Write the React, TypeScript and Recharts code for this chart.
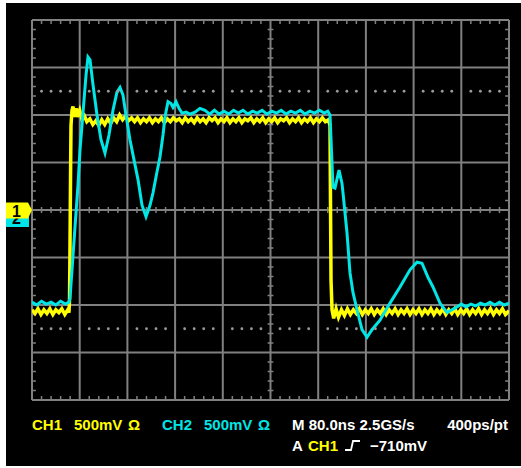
import { LineChart, Line, XAxis, YAxis, CartesianGrid, ReferenceLine, ReferenceDot } from 'recharts';

// scope setup: 80ns/div horizontally, 500mV/div vertically
const timeTicks = [0, 80, 160, 240, 320, 400, 480, 560, 640, 720, 800];
const voltTicks = [-2, -1.5, -1, -0.5, 0, 0.5, 1, 1.5, 2];
const cursorVolts = [1.25, -1.25];

// CH1 (yellow) – [ns, V]
const ch1Trace: [number, number][] = [
  [0, -1.05], [5, -1.09], [10, -1.04], [15, -1.1], [20, -1.05], [25, -1.09], [30, -1.04], [35, -1.1],
  [40, -1.05], [45, -1.08], [50, -1.04], [55, -1.1], [60, -1.05], [62, -1.08], [62.9, -0.95], [63.7, -0.42],
  [64.6, 0.32], [65.4, 0.89], [67.1, 1.05], [68.8, 1.09], [70.5, 0.98], [72.1, 1.03], [74, 1.07], [76, 0.98],
  [80, 1.05], [84, 0.95], [88, 0.99], [92, 0.93], [97, 0.96], [102, 0.9], [107, 0.94], [112, 0.89],
  [117, 0.95], [122, 0.9], [127, 0.96], [132, 0.91], [137, 0.97], [142, 0.93], [147, 1.0], [152, 0.95],
  [157, 0.99], [162, 0.94], [167, 0.97], [172, 0.93], [177, 0.97], [182, 0.92], [187, 0.96], [192, 0.93],
  [197, 0.97], [202, 0.92], [207, 0.96], [212, 0.93], [217, 0.97], [222, 0.92], [227, 0.96], [232, 0.93],
  [237, 0.97], [242, 0.94], [247, 0.96], [252, 0.92], [257, 0.97], [262, 0.93], [267, 0.96], [272, 0.92],
  [277, 0.97], [282, 0.93], [287, 0.96], [292, 0.92], [297, 0.97], [302, 0.94], [307, 0.97], [312, 0.92],
  [317, 0.96], [322, 0.93], [327, 0.97], [332, 0.92], [337, 0.96], [342, 0.93], [347, 0.97], [352, 0.92],
  [357, 0.96], [362, 0.94], [367, 0.97], [372, 0.92], [377, 0.96], [382, 0.93], [387, 0.97], [392, 0.92],
  [397, 0.96], [402, 0.93], [407, 0.97], [412, 0.92], [417, 0.96], [422, 0.94], [427, 0.97], [432, 0.92],
  [437, 0.96], [442, 0.93], [447, 0.97], [452, 0.92], [457, 0.96], [462, 0.93], [467, 0.97], [472, 0.92],
  [477, 0.96], [482, 0.93], [487, 0.97], [492, 0.93], [497, 0.95],
  [499.8, 0.89], [500.6, 0.1], [501.5, -0.74], [503.2, -1.05], [506, -1.14], [510, -1.04], [514, -1.13],
  [519, -1.05], [524, -1.11], [529, -1.04], [534, -1.1], [539, -1.05], [544, -1.09], [549, -1.04],
  [554, -1.1], [559, -1.05], [564, -1.09], [569, -1.04], [574, -1.1], [579, -1.05], [584, -1.09],
  [589, -1.04], [594, -1.1], [599, -1.05], [604, -1.09], [609, -1.04], [614, -1.1], [619, -1.05],
  [624, -1.09], [629, -1.04], [634, -1.1], [639, -1.05], [644, -1.09], [649, -1.04], [654, -1.1],
  [659, -1.05], [664, -1.09], [669, -1.04], [674, -1.1], [679, -1.05], [684, -1.09], [689, -1.04],
  [694, -1.1], [699, -1.05], [704, -1.09], [709, -1.04], [714, -1.1], [719, -1.05], [724, -1.09],
  [729, -1.04], [734, -1.1], [739, -1.05], [744, -1.09], [749, -1.04], [754, -1.1], [759, -1.05],
  [764, -1.09], [769, -1.04], [774, -1.1], [779, -1.05], [784, -1.09], [789, -1.04], [794, -1.1],
  [800, -1.06],
];

// CH2 (cyan) – [ns, V]
const ch2Trace: [number, number][] = [
  [0, -0.97], [8, -1.0], [16, -0.96], [24, -0.99], [32, -0.97], [40, -1.0], [48, -0.96], [56, -0.99],
  [62, -0.97], [63.7, -0.93], [67.1, -0.63], [72.1, -0.18], [77.1, 0.26], [80.5, 0.63], [85.5, 1.02],
  [90.6, 1.42], [93.9, 1.61], [97.3, 1.58], [102.3, 1.32], [109, 1.0], [115.7, 0.74], [122.4, 0.6],
  [129.1, 0.79], [135.8, 1.05], [142.5, 1.24], [147.6, 1.29], [152.6, 1.21], [157.6, 1.0], [164.3, 0.74],
  [171, 0.53], [177.8, 0.32], [184.5, 0.05], [191.2, -0.07], [197.9, 0.05], [202.9, 0.18], [209.6, 0.4],
  [214.7, 0.56], [219.7, 0.79], [223, 0.98], [228.1, 1.14], [233.1, 1.12], [236.5, 1.08], [241.5, 1.14],
  [246.5, 1.07], [251.6, 1.02], [258.3, 1.03], [265, 1.01], [273.4, 1.03], [281.7, 1.07], [290.1, 1.05],
  [298, 1.01], [306, 1.05], [314, 1.01], [322, 1.04], [330, 1.01], [338, 1.05], [346, 1.02], [354, 1.05],
  [362, 1.01], [370, 1.04], [378, 1.02], [386, 1.05], [394, 1.01], [402, 1.04], [410, 1.02], [418, 1.05],
  [426, 1.01], [434, 1.04], [442, 1.02], [450, 1.05], [458, 1.01], [466, 1.04], [474, 1.02], [482, 1.05],
  [490, 1.02], [496, 1.04], [499.8, 1.0], [504.8, 0.24], [508.2, 0.23], [514.9, 0.42], [519.9, 0.28],
  [521.6, 0.18], [528.3, -0.24], [533.3, -0.66], [538.4, -0.87], [545.1, -1.05], [553.5, -1.26],
  [561.9, -1.34], [570.2, -1.26], [583.6, -1.16], [600.4, -0.98], [617.2, -0.81], [634, -0.63],
  [645.7, -0.55], [654.1, -0.56], [664.1, -0.71], [672.5, -0.81], [684.2, -0.98], [696, -1.08],
  [704.4, -1.05], [712.8, -1.02], [720, -0.99], [728, -1.02], [736, -0.99], [744, -1.01], [752, -0.98],
  [760, -1.0], [768, -0.97], [776, -1.0], [784, -0.97], [792, -1.0], [800, -0.98],
];

const toRows = (pts: [number, number][]) => pts.map(([t, v]) => ({ t, v }));
const ch1Data = toRows(ch1Trace);
const ch2Data = toRows(ch2Trace);

const GRID = '#808080';
const YELLOW = '#ffff00';
const CYAN = '#00e6e6';

// 5 subdivisions per division
const minorTimes = timeTicks.slice(1).flatMap((t) => [1, 2, 3, 4].map((k) => t - 80 + k * 16));
const minorVolts = voltTicks.slice(1).flatMap((v) => [1, 2, 3, 4].map((k) => v - 0.5 + k * 0.1));
const TX = 6.5; // ~4px in ns
const TY = 0.042; // ~4px in V

const tickSegments = [
  ...minorTimes.map((t) => [{ x: t, y: 2 }, { x: t, y: 2 - TY }]),
  ...minorTimes.map((t) => [{ x: t, y: -2 }, { x: t, y: -2 + TY }]),
  ...minorTimes.map((t) => [{ x: t, y: -TY * 0.75 }, { x: t, y: TY * 0.75 }]),
  ...minorVolts.map((v) => [{ x: 0, y: v }, { x: TX, y: v }]),
  ...minorVolts.map((v) => [{ x: 800, y: v }, { x: 800 - TX, y: v }]),
  ...minorVolts.map((v) => [{ x: 400 - TX * 0.75, y: v }, { x: 400 + TX * 0.75, y: v }]),
];

const font = { fontFamily: '"Liberation Sans", Arial, sans-serif', fontWeight: 700, fontSize: 15 };

export default function App() {
  return (
    <div style={{ position: 'absolute', left: 0, top: 0, width: 521, height: 468, background: '#fff' }}>
      <div style={{ position: 'absolute', left: 6, top: 3, width: 515, height: 463, background: '#000' }} />
      <div style={{ position: 'absolute', left: 0, top: 0 }}>
        <LineChart width={521} height={468} margin={{ top: 20, right: 12, bottom: 68, left: 32 }}>
          <XAxis type="number" dataKey="t" domain={[0, 800]} ticks={timeTicks} hide allowDataOverflow />
          <YAxis type="number" domain={[-2, 2]} ticks={voltTicks} hide allowDataOverflow />
          <CartesianGrid stroke={GRID} strokeWidth={2} />
          {tickSegments.map((seg, i) => (
            <ReferenceLine key={`tk-${i}`} segment={seg} stroke={GRID} strokeWidth={1.5} ifOverflow="visible" />
          ))}
          {cursorVolts.flatMap((v) =>
            minorTimes.map((t) => (
              <ReferenceDot key={`d-${v}-${t}`} x={t} y={v} r={1.4} fill="#9a9a9a" stroke="none" ifOverflow="visible" />
            ))
          )}
          <Line data={ch1Data} dataKey="v" type="linear" stroke={YELLOW} strokeWidth={3.5} dot={false} isAnimationActive={false} />
          <Line data={ch2Data} dataKey="v" type="linear" stroke={CYAN} strokeWidth={3} dot={false} isAnimationActive={false} />
        </LineChart>
      </div>
      <svg width={521} height={468} style={{ position: 'absolute', left: 0, top: 0, pointerEvents: 'none' }}>
        {/* channel ground markers; CH1 sits on top of CH2 */}
        <rect x={6} y={209} width={23} height={18} fill={CYAN} />
        <text x={16.5} y={224} textAnchor="middle" fill="#000" style={{ ...font, fontSize: 16 }}>2</text>
        <polygon points="6,202.5 28,202.5 32,210 28,218.5 6,218.5" fill={YELLOW} />
        <text x={16.5} y={217} textAnchor="middle" fill="#000" style={{ ...font, fontSize: 16 }}>1</text>

        <text x={32} y={430} fill={YELLOW} style={font}>CH1</text>
        <text x={74} y={430} fill={YELLOW} style={font}>500mV</text>
        <text x={128} y={430} fill={YELLOW} style={font}>Ω</text>
        <text x={162} y={430} fill={CYAN} style={font}>CH2</text>
        <text x={204} y={430} fill={CYAN} style={font}>500mV</text>
        <text x={258} y={430} fill={CYAN} style={font}>Ω</text>
        <text x={292} y={430} fill="#fff" style={font}>M 80.0ns 2.5GS/s</text>
        <text x={508} y={430} fill="#fff" textAnchor="end" style={font}>400ps/pt</text>
        <text x={292} y={450.5} fill="#fff" style={font}>A</text>
        <text x={308} y={450.5} fill={YELLOW} style={font}>CH1</text>
        <path d="M345,450 L351,450 L353,441 L360,441" stroke="#fff" strokeWidth={1.8} fill="none" />
        <text x={370} y={450.5} fill="#fff" style={font}>−710mV</text>
      </svg>
    </div>
  );
}
